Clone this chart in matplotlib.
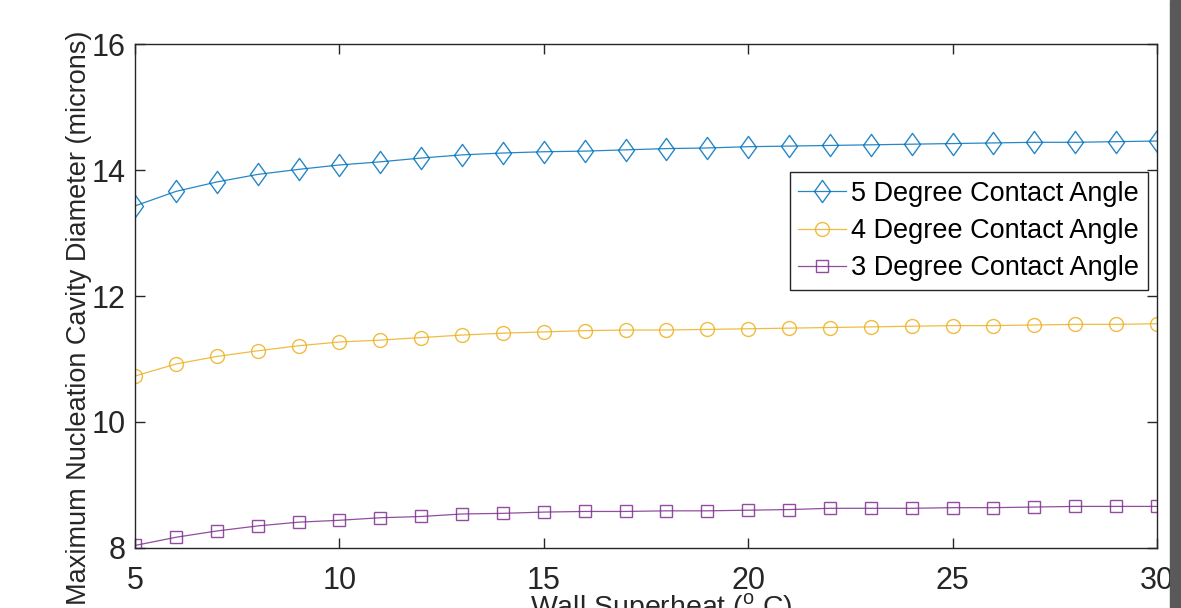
import matplotlib
matplotlib.use('Agg')
import matplotlib.pyplot as plt
from matplotlib.path import Path
from matplotlib.patches import Rectangle

plt.rcParams['font.family'] = ['Liberation Sans', 'DejaVu Sans']
plt.rcParams['mathtext.fontset'] = 'custom'
plt.rcParams['mathtext.rm'] = 'Liberation Sans'

# wall superheat (deg C)
superheat = list(range(5, 31))

# max nucleation cavity diameter (microns)
diam_5deg = [13.43, 13.66, 13.81, 13.93, 14.01, 14.08, 14.13, 14.19, 14.24, 14.27,
             14.29, 14.30, 14.32, 14.34, 14.35, 14.37, 14.38, 14.39, 14.40, 14.41,
             14.42, 14.43, 14.44, 14.44, 14.45, 14.46]
diam_4deg = [10.73, 10.92, 11.04, 11.13, 11.21, 11.27, 11.30, 11.34, 11.38, 11.41,
             11.43, 11.45, 11.46, 11.46, 11.47, 11.48, 11.49, 11.50, 11.51, 11.52,
             11.53, 11.53, 11.54, 11.55, 11.55, 11.56]
diam_3deg = [8.04, 8.17, 8.27, 8.35, 8.41, 8.44, 8.48, 8.50, 8.54, 8.55,
             8.57, 8.58, 8.58, 8.59, 8.59, 8.60, 8.61, 8.63, 8.63, 8.63,
             8.64, 8.64, 8.65, 8.66, 8.66, 8.66]

labels = ['5 Degree Contact Angle', '4 Degree Contact Angle', '3 Degree Contact Angle']
xticks = [5, 10, 15, 20, 25, 30]
yticks = [8, 10, 12, 14, 16]

# matlab style diamond (wider than mpl's 'd')
diamond = Path([(0, 1), (0.72, 0), (0, -1), (-0.72, 0), (0, 1)],
               [Path.MOVETO, Path.LINETO, Path.LINETO, Path.LINETO, Path.CLOSEPOLY])

fig = plt.figure(figsize=(11.81, 6.08), dpi=100)
ax = fig.add_axes([0.1143, 0.0987, 0.8654, 0.8289])

ax.plot(superheat, diam_5deg, color='#0072BD', lw=0.9, marker=diamond, markersize=16,
        mfc='none', mew=1.0, alpha=0.85, label=labels[0])
ax.plot(superheat, diam_4deg, color='#EDB120', lw=0.9, marker='o', markersize=10,
        mfc='none', mew=1.0, alpha=0.85, label=labels[1])
ax.plot(superheat, diam_3deg, color='#7E2F8E', lw=0.9, marker='s', markersize=8.6,
        mfc='none', mew=1.0, alpha=0.85, label=labels[2])

ax.set_xlim(5, 30)
ax.set_ylim(8, 16)
ax.set_xticks(xticks)
ax.set_yticks(yticks)
ax.tick_params(direction='in', length=7.5, width=1.0, colors='#262626', labelsize=22,
               top=True, right=True)
ax.tick_params(axis='x', pad=13)
ax.tick_params(axis='y', pad=7)
for s in ax.spines.values():
    s.set_color('#262626')
    s.set_linewidth(1.0)

leg = ax.legend(loc='upper right', bbox_to_anchor=(0.991, 0.746), fontsize=19.5,
                frameon=True, fancybox=False, borderpad=0.32, labelspacing=0.42,
                handlelength=1.75, handletextpad=0.2, borderaxespad=0.0)
leg.get_frame().set_edgecolor('#262626')
leg.get_frame().set_linewidth(1.0)
leg.get_frame().set_alpha(1.0)

# labels placed where they sit in the (cropped) screenshot
fig.text(0.067, 0.477, 'Maximum Nucleation Cavity Diameter (microns)', rotation=90,
         ha='center', va='center', fontsize=19.5, color='#262626')
fig.text(0.56, -0.012, r'Wall Superheat ($^{\mathrm{o}}$ C)', ha='center', va='baseline',
         fontsize=20.5, color='#262626')

# dark strip at the right edge of the screenshot
fig.patches.append(Rectangle((1170 / 1181, 0), 1 - 1170 / 1181, 1, transform=fig.transFigure,
                             color='#595959', zorder=10))

fig.savefig('out.png', dpi=100)
